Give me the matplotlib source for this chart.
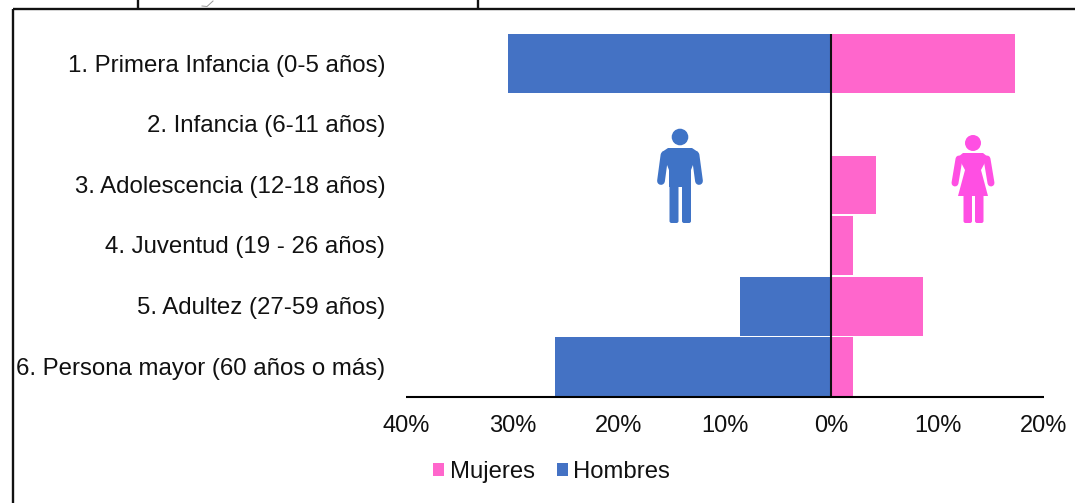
import matplotlib
matplotlib.use("Agg")
import matplotlib.pyplot as plt
from matplotlib.patches import Circle, FancyBboxPatch, Polygon
from matplotlib.ticker import FuncFormatter
from matplotlib.transforms import ScaledTranslation

plt.rcParams['font.family'] = ['Liberation Sans', 'DejaVu Sans']

categories = ["1. Primera Infancia (0-5 años)", "2. Infancia (6-11 años)",
              "3. Adolescencia (12-18 años)", "4. Juventud (19 - 26 años)",
              "5. Adultez (27-59 años)", "6. Persona mayor (60 años o más)"]
mujeres = [17.3, 0, 4.2, 2.0, 8.6, 2.0]
hombres = [30.4, 0, 0, 0, 8.6, 26.0]
xticks = [-40, -30, -20, -10, 0, 10, 20]

C_M = "#FF66CC"
C_H = "#4472C4"
W, H = 1075, 503
fig = plt.figure(figsize=(W / 100, H / 100), dpi=100)

# overlay in pixel coordinates for the frame and pictograms
ov = fig.add_axes([0, 0, 1, 1], zorder=3)
ov.set_xlim(0, W); ov.set_ylim(H, 0); ov.axis("off"); ov.patch.set_alpha(0)
ln = dict(color="#111111", lw=1.7, solid_capstyle="butt")
ov.plot([12.5, W], [9.3, 9.3], **ln)
ov.plot([12.5, 12.5], [8.5, H], **ln)
ov.plot([137.5, 137.5], [0, 9], **ln)
ov.plot([477.5, 477.5], [0, 9], **ln)
ov.plot([202, 207, 213], [6, 6.5, 1], color="#999999", lw=0.7)

def rr(x0, y0, x1, y1, c, r=2):
    ov.add_patch(FancyBboxPatch((x0 + r, y0 + r), x1 - x0 - 2 * r, y1 - y0 - 2 * r,
                                boxstyle=f"round,pad={r}", fc=c, ec="none"))

def limb(x0, y0, x1, y1, c, lw):
    ov.plot([x0, x1], [y0, y1], color=c, lw=lw, solid_capstyle="round")

# man
c = "#3F73C6"
ov.add_patch(Circle((680, 137), 8.3, fc=c, ec="none"))
ov.add_patch(Polygon([(668, 148), (692, 148), (698, 152), (691, 170), (691, 187),
                      (669, 187), (669, 170), (662, 152)], closed=True, fc=c, ec="none"))
limb(664.5, 155, 661, 181, c, 5.6)
limb(695.5, 155, 699, 181, c, 5.6)
rr(669.5, 184, 678.5, 223, c)
rr(682, 184, 691, 223, c)
# woman
c = "#FF4FE3"
ov.add_patch(Circle((973, 143), 8, fc=c, ec="none"))
ov.add_patch(Polygon([(963, 153), (983, 153), (988, 157), (981, 170), (988, 196),
                      (958, 196), (965, 170), (958, 157)], closed=True, fc=c, ec="none"))
limb(959, 159, 955, 183, c, 5)
limb(987, 159, 991, 183, c, 5)
rr(963.5, 194, 972, 223, c)
rr(975, 194, 983.5, 223, c)

# chart
L, R, T, B = 406.3, 1044, 33.5, 397
ax = fig.add_axes([L / W, 1 - B / H, (R - L) / W, (B - T) / H], zorder=2)
y = list(range(len(categories)))
ax.barh(y, mujeres, height=0.97, color=C_M, label="Mujeres")
ax.barh(y, [-v for v in hombres], height=0.97, color=C_H, label="Hombres")
ax.set_xlim(-40, 20)
ax.set_ylim(5.5, -0.5)
ax.set_yticks(y, categories, fontsize=17.3, color="#111111")
ax.set_xticks(xticks)
ax.xaxis.set_major_formatter(FuncFormatter(lambda v, p: f"{abs(v):.0f}%"))
ax.tick_params(axis="x", length=0, pad=12.6, labelsize=17, labelcolor="#111111")
ax.tick_params(axis="y", length=0, pad=15.2)
shift = ScaledTranslation(0, 0.5 / 72, fig.dpi_scale_trans)
for t in ax.get_yticklabels():
    t.set_transform(t.get_transform() + shift)
for s in ("top", "right", "left"):
    ax.spines[s].set_visible(False)
ax.spines["bottom"].set_linewidth(1.5)
ax.spines["bottom"].set_capstyle("butt")
ax.axvline(0, color="#111111", lw=1.5)
ax.patch.set_alpha(0)
ax.legend(loc="center left", bbox_to_anchor=(428.5 / W, 1 - 472 / H), bbox_transform=fig.transFigure,
          ncol=2, frameon=False, fontsize=17.2, handlelength=0.46, handleheight=0.46,
          handletextpad=0.22, columnspacing=0.95, labelcolor="#111111", borderpad=0.2,
          borderaxespad=0)

fig.savefig("out.png", dpi=100)
